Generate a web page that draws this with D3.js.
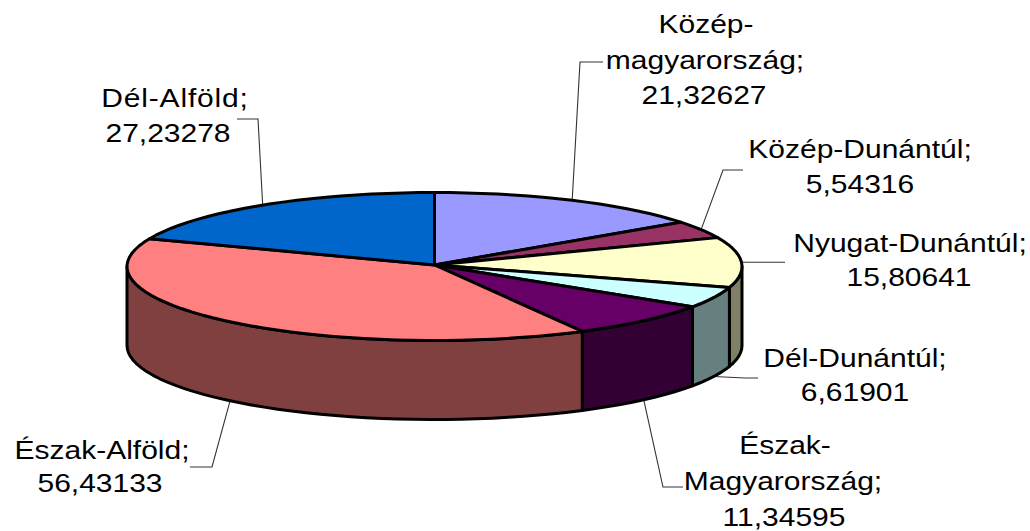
<!DOCTYPE html>
<html><head><meta charset="utf-8">
<script src="https://cdn.jsdelivr.net/npm/d3@7/dist/d3.min.js"></script>
<style>html,body{margin:0;padding:0;background:#fff}svg{display:block}text{font-family:"Liberation Sans",Arial,sans-serif;font-size:25px;fill:#000;text-anchor:middle}</style>
</head><body><svg id="c" width="1030" height="531"></svg>
<script>
const categories = ["Közép-magyarország","Közép-Dunántúl","Nyugat-Dunántúl","Dél-Dunántúl","Észak-Magyarország","Észak-Alföld","Dél-Alföld"];
const values = [21.32627,5.54316,15.80641,6.61901,11.34595,56.43133,27.23278];
const topColors = ["#9999FF","#993366","#FFFFCC","#CCFFFF","#660066","#FF8080","#0066CC"];
const wallColors = ["#4D4D80","#4D1A33","#808066","#668080","#330033","#804040","#003366"];
const labelLines = [["Közép-","magyarország;"],["Közép-Dunántúl;"],["Nyugat-Dunántúl;"],["Dél-Dunántúl;"],["Észak-","Magyarország;"],["Észak-Alföld;"],["Dél-Alföld;"]];
// layout only: label centres per line, first baseline, line pitch, leader elbow points
const labelLayout = [
 {xs:[706,705,704],y:33,dy:35.5,pts:[[580,62],[603,62]],wall:false},
 {xs:[860,860],y:158,dy:35,pts:[[723,170],[743,170]],wall:false},
 {xs:[910,909],y:252,dy:34,pts:[[785,261]],wall:false,snap:true},
 {xs:[855,855],y:367,dy:34,pts:[[745,378],[758,378]],wall:true},
 {xs:[785,783,784],y:454,dy:36,pts:[[663,487],[683,487]],wall:true},
 {xs:[102,100],y:459,dy:33,pts:[[212,467],[190,467]],wall:true},
 {xs:[175,168],y:107,dy:35,pts:[[258,119],[237,119]],wall:false,spacing:[0.7,0]}
];
const cx=434.5, cy=266.5, rx=307.5, ry=74, depth=79, step=Math.PI/60;
const svg=d3.select("#c");
const sx=d3.scaleLinear().domain([-1,1]).range([cx-rx,cx+rx]);
const sy=d3.scaleLinear().domain([-1,1]).range([cy-ry,cy+ry]);
const px=a=>sx(Math.sin(a)), py=a=>sy(-Math.cos(a));
const line=d3.line().curve(d3.curveLinear);
const arcs=d3.pie().sort(null).value(d=>d)(values);
function rim(a0,a1,off=0){
  const n=Math.max(1,Math.ceil((a1-a0)/step)), out=[];
  for(let i=0;i<=n;i++){const a=a0+(a1-a0)*i/n; out.push([px(a),py(a)+off]);}
  return out;
}
const ink={stroke:"#000","stroke-width":3,"stroke-linejoin":"round"};
const apply=(s,o)=>{for(const k in o)s.attr(k,o[k]);return s;};
arcs.forEach((d,i)=>{
  const m=(d.startAngle+d.endAngle)/2, L=labelLayout[i];
  const start=[px(m),py(m)+(L.wall?depth:0)];
  const pts=[start,...L.pts];
  if(L.snap) pts[1]=[pts[1][0],start[1]];
  svg.append("path").attr("d",line(pts)).attr("fill","none").attr("stroke","#333").attr("stroke-width",1.1);
});
const front0=Math.PI/2, front1=Math.PI*1.5;
arcs.forEach((d,i)=>{
  const a0=Math.max(d.startAngle,front0), a1=Math.min(d.endAngle,front1);
  if(a1<=a0) return;
  const up=rim(a0,a1), down=rim(a0,a1,depth).reverse();
  apply(svg.append("path").attr("d",line(up.concat(down))+"Z").attr("fill",wallColors[i]),ink);
});
arcs.forEach((d,i)=>{
  const pts=[[sx(0),sy(0)-1.5],...rim(d.startAngle,d.endAngle)];
  apply(svg.append("path").attr("d",line(pts)+"Z").attr("fill",topColors[i]),ink);
});
arcs.forEach((d,i)=>{
  const L=labelLayout[i], lines=[...labelLines[i],values[i].toFixed(5).replace(".",",")];
  lines.forEach((t,j)=>svg.append("text")
    .attr("transform",`translate(${L.xs[j]},${L.y+j*L.dy}) scale(1.2,1)`)
    .style("letter-spacing",L.spacing?L.spacing[j]+"px":null).text(t));
});
</script></body></html>
